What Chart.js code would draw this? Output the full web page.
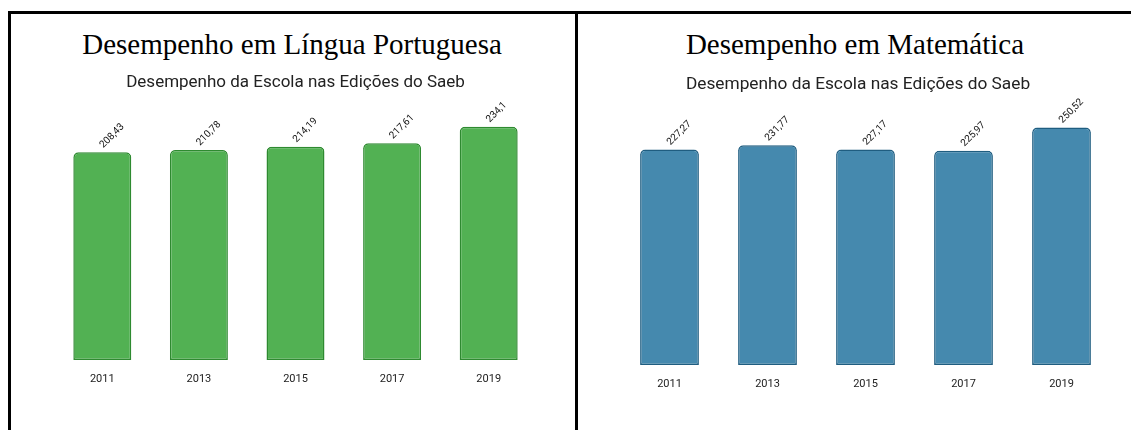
<!DOCTYPE html>
<html>
<head>
<meta charset="utf-8">
<script src="https://cdn.jsdelivr.net/npm/chart.js@4.4.1/dist/chart.umd.min.js"></script>
<style>
  html, body { margin: 0; padding: 0; background: #fff; width: 1131px; height: 430px; overflow: hidden; }
  .line { position: absolute; background: #000; }
  .title { position: absolute; font-family: "Liberation Serif", "Times New Roman", serif; font-size: 29px; line-height: 29px; color: #000; white-space: nowrap; transform: translateX(-50%); z-index: 2; }
  .subtitle { position: absolute; font-family: Roboto, sans-serif; font-size: 17px; line-height: 17px; color: #222; white-space: nowrap; transform: translateX(-50%); z-index: 2; }
  canvas { position: absolute; }
</style>
</head>
<body>
<div class="line" style="left:8px; top:11px; width:1123px; height:3px;"></div>
<div class="line" style="left:8px; top:11px; width:3px; height:419px;"></div>
<div class="line" style="left:575px; top:11px; width:3px; height:419px;"></div>

<div class="title" style="left:292px; top:30px;">Desempenho em Língua Portuguesa</div>
<div class="subtitle" style="left:295.5px; top:72.7px;">Desempenho da Escola nas Edições do Saeb</div>
<div class="title" style="left:855px; top:30px;">Desempenho em Matemática</div>
<div class="subtitle" style="left:858px; top:74.5px; font-size:17.3px; line-height:17.3px;">Desempenho da Escola nas Edições do Saeb</div>

<canvas id="c1" width="564" height="370" style="left:11px; top:60px;"></canvas>
<canvas id="c2" width="552" height="370" style="left:579px; top:60px;"></canvas>

<script>
const categories = ['2011', '2013', '2015', '2017', '2019'];
const portuguesValues = [208.43, 210.78, 214.19, 217.61, 234.1];
const matematicaValues = [227.27, 231.77, 227.17, 225.97, 250.52];

function fmt(v) { return String(v).replace('.', ','); }

const valueLabelPlugin = {
  id: 'valueLabels',
  afterDatasetsDraw(chart) {
    const ctx = chart.ctx;
    const meta = chart.getDatasetMeta(0);
    const data = chart.data.datasets[0].data;
    ctx.save();
    ctx.font = '10px Roboto';
    ctx.fillStyle = '#111';
    ctx.textAlign = 'left';
    ctx.textBaseline = 'alphabetic';
    meta.data.forEach((bar, i) => {
      ctx.save();
      ctx.translate(bar.x + 1, bar.y - 4);
      ctx.rotate(-Math.PI / 4);
      ctx.fillText(fmt(data[i]), 0, 0);
      ctx.restore();
    });
    ctx.restore();
  }
};

function makeChart(id, values, fill, border, yMax, pad) {
  return new Chart(document.getElementById(id), {
    type: 'bar',
    data: {
      labels: categories,
      datasets: [{
        data: values,
        backgroundColor: fill,
        borderColor: border,
        borderWidth: 1.5,
        borderSkipped: false,
        borderRadius: { topLeft: 5, topRight: 5, bottomLeft: 0, bottomRight: 0 },
        barPercentage: 0.6,
        categoryPercentage: 1
      }]
    },
    options: {
      responsive: false,
      devicePixelRatio: 1,
      animation: false,
      layout: { padding: pad },
      plugins: { legend: { display: false }, tooltip: { enabled: false }, title: { display: false } },
      scales: {
        y: { display: false, min: 0, max: yMax },
        x: {
          grid: { display: false, drawTicks: false },
          border: { display: false },
          ticks: { padding: 13, color: '#222', font: { family: 'Roboto', size: 11 } }
        }
      }
    },
    plugins: [valueLabelPlugin]
  });
}

makeChart('c1', portuguesValues, '#52b153', '#2e8a30', 261, { top: 40, bottom: 30.8, left: 43, right: 38 });
makeChart('c2', matematicaValues, '#4589ae', '#1f5d80', 279.5, { top: 40, bottom: 25.8, left: 41.5, right: 20.5 });
</script>
</body>
</html>
